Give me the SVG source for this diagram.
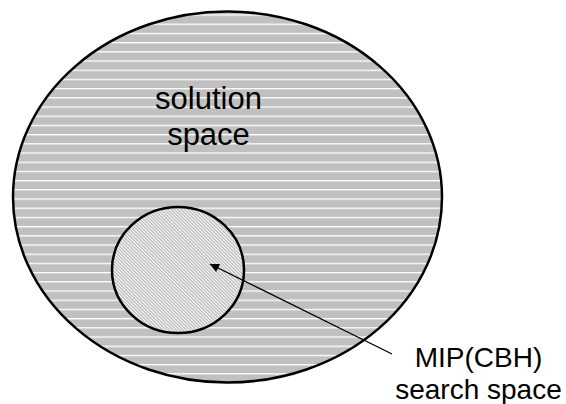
<svg xmlns="http://www.w3.org/2000/svg" width="566" height="404" viewBox="0 0 566 404">
<style>
  .outline { stroke: #000; stroke-width: 2.5; }
  .label { font-family: "Liberation Sans", Arial, sans-serif; fill: #000; text-anchor: middle; }
  .conn { stroke: #000; stroke-width: 1.3; fill: none; }
</style>
<defs>
  <pattern id="hstripes" patternUnits="userSpaceOnUse" x="0" y="14.4" width="10" height="9.2">
    <rect x="0" y="0" width="10" height="9.2" fill="#c0c0c0"/>
    <rect x="0" y="0" width="10" height="1.3" fill="#ffffff"/>
  </pattern>
  <pattern id="dstripes" patternUnits="userSpaceOnUse" width="2.4" height="10" patternTransform="rotate(-45)">
    <rect x="0" y="0" width="2.4" height="10" fill="#c0c0c0"/>
    <rect x="0" y="0" width="0.9" height="10" fill="#ffffff"/>
  </pattern>
  <marker id="arrow" viewBox="0 0 10 10" refX="10" refY="5" markerWidth="11" markerHeight="9" markerUnits="userSpaceOnUse" orient="auto">
    <path d="M0,0 L10,5 L0,10 Z" fill="#000"/>
  </marker>
</defs>
<g id="solution-space">
  <ellipse cx="227.5" cy="197" rx="214.5" ry="185.5" fill="url(#hstripes)" class="outline"/>
  <text class="label" x="208.5" y="109" font-size="31">solution</text>
  <text class="label" x="208.5" y="145" font-size="31">space</text>
</g>
<g id="mip-search-space">
  <ellipse cx="178" cy="270" rx="66" ry="63" fill="url(#dstripes)" class="outline"/>
</g>
<g id="mip-label">
  <text class="label" x="478.5" y="367" font-size="28">MIP(CBH)</text>
  <text class="label" x="478.5" y="399" font-size="28">search space</text>
</g>
<g id="connectors">
  <line class="conn" x1="392" y1="354" x2="210" y2="264" marker-end="url(#arrow)"/>
</g>
</svg>
